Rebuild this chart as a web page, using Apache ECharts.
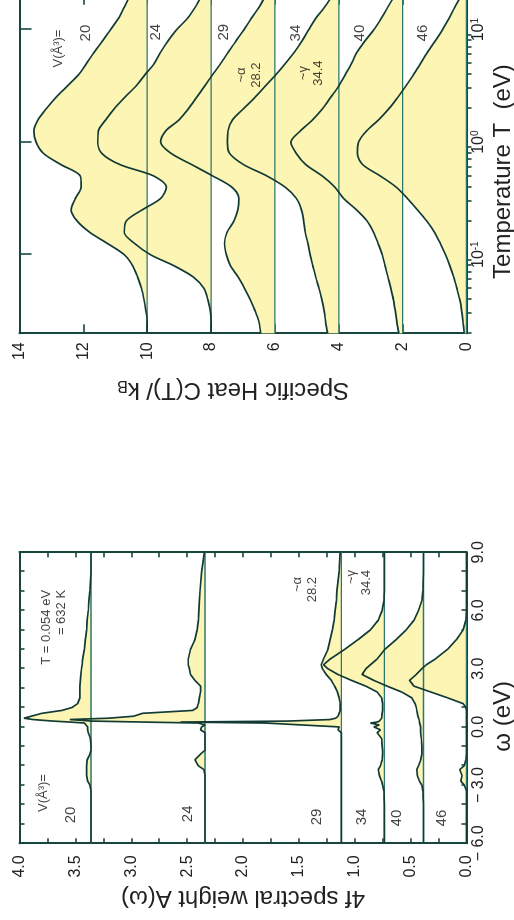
<!DOCTYPE html>
<html>
<head>
<meta charset="utf-8">
<title>Ce 4f spectral weight and specific heat</title>
<script src="https://cdn.jsdelivr.net/npm/echarts@6.0.0/dist/echarts.min.js"></script>
<style>
  html, body { margin: 0; padding: 0; width: 514px; height: 920px; overflow: hidden; background: #ffffff; }
  /* The figure is laid out landscape and turned a quarter turn for the portrait page. */
  #figure {
    position: absolute; left: 0; top: 0;
    width: 940px; height: 514px;
    transform-origin: 0 0;
    transform: translate(0, 920px) rotate(-90deg);
  }
</style>
</head>
<body>
<div id="figure"></div>
<script>
// ---------------- data ----------------
const volumes = ['20', '24', '29', '34', '40', '46'];

// 4f spectral weight A(omega), curves shifted by a constant per volume
const omega = [-6, -5, -4, -3.3, -3.0, -2.8, -2.5, -2.2, -2.0, -1.7, -1.4, -1.2, -1.0, -0.6, -0.3, -0.15,
  0.0, 0.1, 0.2, 0.25, 0.3, 0.38, 0.45, 0.55, 0.7, 0.85, 1.0, 1.2, 1.5, 1.8, 2.1, 2.4, 2.7, 3.0, 3.2,
  3.5, 4.0, 4.5, 5.0, 5.5, 6.0, 6.5, 7.0, 8.0, 9.0];
const spectralOffsets = [3.36, 2.34, 1.12, 0.735, 0.385, 0];
const spec20 = [3.36, 3.36, 3.36, 3.36, 3.37, 3.39, 3.40, 3.40, 3.40, 3.395, 3.37, 3.36, 3.36, 3.365, 3.385, 3.39,
  3.39, 3.40, 3.42, 3.55, 3.70, 3.88, 3.96, 3.97, 3.80, 3.62, 3.53, 3.48, 3.46, 3.46, 3.46, 3.455, 3.45, 3.445, 3.44,
  3.435, 3.42, 3.41, 3.40, 3.395, 3.385, 3.38, 3.37, 3.36, 3.36];
const spec24 = [2.34, 2.34, 2.34, 2.34, 2.34, 2.34, 2.34, 2.35, 2.40, 2.43, 2.38, 2.34, 2.34, 2.34, 2.34, 2.38,
  2.37, 2.34, 2.40, 2.90, 3.35, 3.55, 3.20, 2.98, 2.90, 2.45, 2.41, 2.40, 2.39, 2.38, 2.38, 2.43, 2.47, 2.48, 2.49,
  2.49, 2.47, 2.43, 2.41, 2.40, 2.395, 2.39, 2.385, 2.37, 2.345];
const spec29 = [1.12, 1.12, 1.12, 1.12, 1.12, 1.12, 1.12, 1.12, 1.12, 1.12, 1.12, 1.12, 1.12, 1.12, 1.12, 1.15,
  1.14, 1.15, 1.80, 2.56, 1.60, 1.22, 1.17, 1.15, 1.14, 1.13, 1.13, 1.13, 1.14, 1.155, 1.18, 1.21, 1.255, 1.29, 1.30,
  1.28, 1.24, 1.22, 1.20, 1.185, 1.175, 1.165, 1.16, 1.14, 1.13];
const spec34 = [0.735, 0.735, 0.735, 0.74, 0.75, 0.76, 0.78, 0.79, 0.77, 0.755, 0.75, 0.75, 0.755, 0.76, 0.80, 0.77,
  0.83, 0.78, 0.86, 0.80, 0.78, 0.77, 0.76, 0.76, 0.755, 0.75, 0.75, 0.75, 0.76, 0.80, 0.90, 1.03, 1.15, 1.24, 1.28,
  1.22, 1.09, 0.97, 0.86, 0.79, 0.755, 0.74, 0.735, 0.735, 0.735];
const spec40 = [0.385, 0.385, 0.385, 0.39, 0.40, 0.42, 0.44, 0.445, 0.43, 0.41, 0.40, 0.40, 0.40, 0.405, 0.41, 0.41,
  0.41, 0.415, 0.42, 0.42, 0.42, 0.425, 0.43, 0.435, 0.44, 0.445, 0.45, 0.46, 0.49, 0.58, 0.71, 0.83, 0.935, 0.90, 0.86,
  0.80, 0.73, 0.63, 0.54, 0.47, 0.43, 0.40, 0.39, 0.385, 0.385];
const spec46 = [0, 0, 0, 0, 0.02, 0.05, 0.04, 0.06, 0.02, 0.005, 0, 0, 0, 0, 0, 0,
  0, 0, 0, 0, 0, 0, 0, 0, 0, 0, 0.005, 0.03, 0.17, 0.32, 0.47, 0.51, 0.45, 0.40, 0.36,
  0.28, 0.17, 0.09, 0.03, 0.005, 0, 0, 0, 0, 0];

// specific heat C(T)/kB, curves shifted by a constant per volume
const tempEV = [0.02, 0.0251, 0.0316, 0.0398, 0.0501, 0.0631, 0.0794, 0.1, 0.126, 0.158, 0.2, 0.251, 0.316, 0.398,
  0.501, 0.631, 0.794, 1, 1.26, 1.58, 2, 2.51, 3.16, 3.98, 5.01, 6.31, 7.94, 10, 12.6, 15.8, 20];
const heatOffsets = [10, 8, 6, 4, 2, 0];
const heat20 = [10.0, 10.0, 10.04, 10.1, 10.18, 10.3, 10.45, 10.72, 11.25, 11.8, 12.2, 12.38, 12.25, 12.07, 12.1,
  12.7, 13.25, 13.48, 13.55, 13.42, 13.15, 12.85, 12.5, 12.15, 11.9, 11.66, 11.4, 11.15, 10.9, 10.72, 10.55];
const heat24 = [8.0, 8.0, 8.02, 8.1, 8.22, 8.55, 9.15, 9.9, 10.4, 10.72, 10.65, 10.15, 9.58, 9.4, 9.8,
  10.85, 11.42, 11.55, 11.53, 11.3, 11.02, 10.7, 10.35, 10.07, 9.78, 9.58, 9.35, 9.08, 8.74, 8.5, 8.3];
const heat29 = [6.45, 6.5, 6.62, 6.77, 6.95, 7.15, 7.39, 7.52, 7.58, 7.5, 7.28, 7.16, 7.13, 7.35, 7.95,
  8.6, 9.25, 9.58, 9.42, 9.0, 8.7, 8.45, 8.2, 7.95, 7.7, 7.46, 7.22, 6.97, 6.74, 6.5, 6.3];
const heat34 = [4.35, 4.41, 4.46, 4.53, 4.62, 4.72, 4.81, 4.9, 4.97, 5.05, 5.1, 5.17, 5.33, 5.68, 6.25,
  6.98, 7.42, 7.49, 7.47, 7.33, 6.97, 6.62, 6.3, 5.97, 5.67, 5.39, 5.15, 4.94, 4.72, 4.45, 4.2];
const heat40 = [2.12, 2.18, 2.23, 2.29, 2.37, 2.46, 2.55, 2.64, 2.77, 2.91, 3.12, 3.45, 3.85, 4.12, 4.52,
  5.03, 5.33, 5.5, 5.2, 4.82, 4.5, 4.25, 4.0, 3.8, 3.6, 3.43, 3.18, 2.9, 2.67, 2.47, 2.25];
const heat46 = [0.07, 0.11, 0.15, 0.21, 0.3, 0.4, 0.52, 0.66, 0.82, 1.0, 1.25, 1.54, 1.85, 2.2, 2.7,
  3.25, 3.42, 3.38, 3.13, 2.75, 2.42, 2.15, 1.9, 1.66, 1.44, 1.22, 0.98, 0.75, 0.55, 0.37, 0.17];

// axis ranges and labelled ticks
const omegaRange = [-6, 9];
const weightRange = [0, 4];
const tempRange = [0.02, 20];
const heatRange = [0, 14];
const tempDecades = [0.1, 1, 10];

// ---------------- styling ----------------
const LINE = '#123b35';
const FRAME = '#17463f';
const BASE = '#2a776b';
const FILL = '#fdf5b4';
const LABEL = '#222222';
const NUM_FONT = "'Liberation Sans Narrow','Arial Narrow','Liberation Sans',Arial,sans-serif";
const TXT_FONT = "'Liberation Sans',Arial,Helvetica,sans-serif";

// minor ticks of the logarithmic temperature axis: 2..9 within every decade
const tempMinor = [];
for (let d = 0.01; d < 20; d *= 10) {
  for (let k = 2; k <= 9; k++) {
    const v = +(k * d).toPrecision(3);
    if (v >= tempRange[0] && v <= tempRange[1] && tempDecades.indexOf(v) < 0) tempMinor.push(v);
  }
}

const frameLine = { show: true, onZero: false, lineStyle: { color: FRAME, width: 2 } };
const tickStyle = { color: FRAME, width: 1.6 };

function signed(v) {
  return v < 0 ? '\u2212 ' + Math.abs(v).toFixed(1) : v.toFixed(1);
}

const xAxis = [
  { // omega, bottom
    gridIndex: 0, type: 'value', position: 'bottom', min: omegaRange[0], max: omegaRange[1], interval: 3,
    axisLine: frameLine,
    axisTick: { show: true, inside: true, length: 5, lineStyle: tickStyle },
    minorTick: { show: true, splitNumber: 3, length: 5, lineStyle: tickStyle },
    splitLine: { show: false },
    axisLabel: { show: true, margin: 4, fontSize: 16, fontFamily: NUM_FONT, color: LABEL, formatter: signed,
      showMinLabel: true, showMaxLabel: true },
    name: '\u03c9 (eV)', nameLocation: 'middle', nameGap: 17,
    nameTextStyle: { fontSize: 24, fontFamily: TXT_FONT, color: '#222', padding: [0, 37, 0, 0] }
  },
  { // omega, top
    gridIndex: 0, type: 'value', position: 'top', min: omegaRange[0], max: omegaRange[1], interval: 3,
    axisLine: frameLine,
    axisTick: { show: true, inside: true, length: 5, lineStyle: tickStyle },
    minorTick: { show: true, splitNumber: 3, length: 5, lineStyle: tickStyle },
    splitLine: { show: false }, axisLabel: { show: false }
  },
  { // temperature, bottom, decades
    gridIndex: 1, type: 'log', logBase: 10, position: 'bottom', min: tempRange[0], max: tempRange[1],
    axisLine: frameLine,
    axisTick: { show: true, inside: true, length: 12, customValues: tempDecades, lineStyle: tickStyle },
    splitLine: { show: false },
    axisLabel: {
      show: true, margin: 4, customValues: tempDecades, color: LABEL,
      formatter: v => '{m|10}{s|' + Math.round(Math.log10(v)) + '}',
      rich: {
        m: { fontSize: 16, fontFamily: NUM_FONT, color: LABEL },
        s: { fontSize: 10, fontFamily: NUM_FONT, color: LABEL, verticalAlign: 'top' }
      }
    },
    name: 'Temperature T  (eV)', nameLocation: 'middle', nameGap: 17,
    nameTextStyle: { fontSize: 24, fontFamily: TXT_FONT, color: '#222', padding: [0, 14, 0, 0] }
  },
  { // temperature, bottom, minor ticks
    gridIndex: 1, type: 'log', logBase: 10, position: 'bottom', min: tempRange[0], max: tempRange[1],
    axisLine: { show: false },
    axisTick: { show: true, inside: true, length: 5, customValues: tempMinor, lineStyle: tickStyle },
    splitLine: { show: false }, axisLabel: { show: false }
  },
  { // temperature, top, decades
    gridIndex: 1, type: 'log', logBase: 10, position: 'top', min: tempRange[0], max: tempRange[1],
    axisLine: frameLine,
    axisTick: { show: true, inside: true, length: 12, customValues: tempDecades, lineStyle: tickStyle },
    splitLine: { show: false }, axisLabel: { show: false }
  },
  { // temperature, top, minor ticks
    gridIndex: 1, type: 'log', logBase: 10, position: 'top', min: tempRange[0], max: tempRange[1],
    axisLine: { show: false },
    axisTick: { show: true, inside: true, length: 5, customValues: tempMinor, lineStyle: tickStyle },
    splitLine: { show: false }, axisLabel: { show: false }
  }
];

const yAxis = [
  { // spectral weight, left
    gridIndex: 0, type: 'value', position: 'left', min: weightRange[0], max: weightRange[1], interval: 0.5,
    axisLine: frameLine,
    axisTick: { show: true, inside: true, length: 5, lineStyle: tickStyle },
    minorTick: { show: true, splitNumber: 2, length: 5, lineStyle: tickStyle },
    splitLine: { show: false },
    axisLabel: { show: true, margin: 12, fontSize: 16, fontFamily: NUM_FONT, color: LABEL,
      formatter: v => v.toFixed(1), showMinLabel: true, showMaxLabel: true },
    name: '4f spectral weight A(\u03c9)', nameLocation: 'middle', nameGap: 42,
    nameTextStyle: { fontSize: 24, fontFamily: TXT_FONT, color: '#222' }
  },
  { // spectral weight, right
    gridIndex: 0, type: 'value', position: 'right', min: weightRange[0], max: weightRange[1], interval: 0.5,
    axisLine: frameLine,
    axisTick: { show: true, inside: true, length: 5, lineStyle: tickStyle },
    minorTick: { show: true, splitNumber: 2, length: 5, lineStyle: tickStyle },
    splitLine: { show: false }, axisLabel: { show: false }
  },
  { // specific heat, left
    gridIndex: 1, type: 'value', position: 'left', min: heatRange[0], max: heatRange[1], interval: 2,
    axisLine: frameLine,
    axisTick: { show: true, inside: true, length: 9, lineStyle: tickStyle },
    splitLine: { show: false },
    axisLabel: { show: true, margin: 9, fontSize: 16, fontFamily: NUM_FONT, color: LABEL,
      showMinLabel: true, showMaxLabel: true },
    name: 'Specific Heat C(T)/ k{sub|B}', nameLocation: 'middle', nameGap: 44,
    nameTextStyle: {
      fontSize: 24, fontFamily: TXT_FONT, color: '#222', padding: [0, 0, 0, 20],
      rich: { sub: { fontSize: 16, fontFamily: TXT_FONT, color: '#222', verticalAlign: 'bottom', lineHeight: 16 } }
    }
  },
  { // specific heat, right
    gridIndex: 1, type: 'value', position: 'right', min: heatRange[0], max: heatRange[1], interval: 2,
    axisLine: frameLine,
    axisTick: { show: true, inside: true, length: 9, lineStyle: tickStyle },
    splitLine: { show: false }, axisLabel: { show: false }
  }
];

// ---------------- series ----------------
const spectralCurves = [spec20, spec24, spec29, spec34, spec40, spec46];
const heatCurves = [heat20, heat24, heat29, heat34, heat40, heat46];
const series = [];

function addPanel(xs, curves, offsets, xi, yi, xr, smooth) {
  curves.forEach((vals, k) => {
    series.push({
      type: 'line', name: 'fill ' + volumes[k], xAxisIndex: xi, yAxisIndex: yi,
      data: xs.map((x, i) => [x, vals[i]]), symbol: 'none', smooth: smooth, silent: true,
      lineStyle: { width: 0 }, areaStyle: { color: FILL, opacity: 1, origin: offsets[k] }, z: 1
    });
  });
  offsets.forEach((b, k) => {
    series.push({
      type: 'line', name: 'base ' + volumes[k], xAxisIndex: xi, yAxisIndex: yi,
      data: [[xr[0], b], [xr[1], b]], symbol: 'none', silent: true,
      lineStyle: { color: BASE, width: 1.3 }, z: 2
    });
  });
  curves.forEach((vals, k) => {
    series.push({
      type: 'line', name: 'V = ' + volumes[k], xAxisIndex: xi, yAxisIndex: yi,
      data: xs.map((x, i) => [x, vals[i]]), symbol: 'none', smooth: smooth, silent: true,
      lineStyle: { color: LINE, width: 1.7 }, z: 3
    });
  });
}
addPanel(omega, spectralCurves, spectralOffsets, 0, 0, omegaRange, false);
addPanel(tempEV, heatCurves, heatOffsets, 2, 2, tempRange, 0.3);

// text annotations placed in data units of each panel
function notes(xi, yi, items) {
  return {
    type: 'scatter', xAxisIndex: xi, yAxisIndex: yi, symbolSize: 0, silent: true, z: 6,
    data: items.map(n => ({
      value: [n[0], n[1]],
      label: {
        show: true, position: 'inside', formatter: n[2], align: n[4] || 'center', verticalAlign: 'middle',
        fontSize: n[3], lineHeight: n[3] + 2, color: '#111', fontFamily: TXT_FONT
      }
    }))
  };
}
series.push(notes(0, 0, [
  [-3.41, 3.79, 'V(\u00c5\u00b3)=', 13],
  [-4.54, 3.54, volumes[0], 15],
  [-4.48, 2.49, volumes[1], 15],
  [-4.64, 1.335, volumes[2], 15],
  [-4.64, 0.94, volumes[3], 15],
  [-4.7, 0.62, volumes[4], 15],
  [-4.7, 0.22, volumes[5], 15],
  [7.06, 3.69, 'T = 0.054 eV\n= 632 K', 13, 'right'],
  [7.73, 1.45, '~\u03b1\n28.2', 13, 'right'],
  [8.09, 0.96, '~\u03b3\n34.4', 13, 'right']
]));
series.push(notes(2, 2, [
  [6.8, 12.79, 'V(\u00c5\u00b3)=', 13],
  [9.33, 11.91, volumes[0], 15],
  [9.5, 9.73, volumes[1], 15],
  [9.5, 7.61, volumes[2], 15],
  [9.33, 5.36, volumes[3], 15],
  [9.33, 3.33, volumes[4], 15],
  [9.33, 1.36, volumes[5], 15],
  [3.95, 6.81, '~\u03b1\n28.2', 13],
  [4.11, 4.88, '~\u03b3\n34.4', 13]
]));

const chart = echarts.init(document.getElementById('figure'), null, { renderer: 'canvas' });
chart.setOption({
  animation: false,
  backgroundColor: '#ffffff',
  textStyle: { fontFamily: TXT_FONT },
  grid: [
    { left: 76.7, top: 19.5, width: 291, height: 447, containLabel: false, outerBoundsMode: 'none' },
    { left: 586.7, top: 19.5, width: 337.5, height: 447, containLabel: false, outerBoundsMode: 'none' }
  ],
  xAxis: xAxis,
  yAxis: yAxis,
  series: series
});
</script>
</body>
</html>
